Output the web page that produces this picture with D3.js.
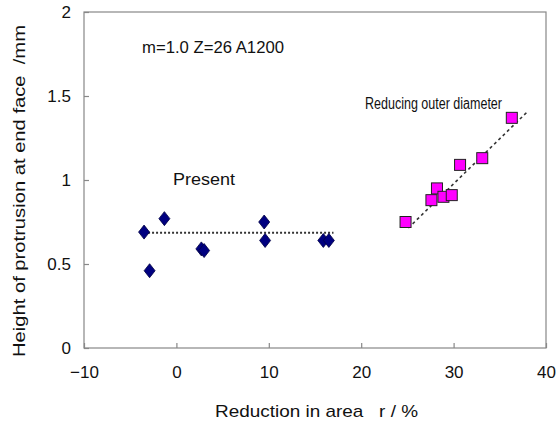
<!DOCTYPE html>
<html>
<head>
<meta charset="utf-8">
<script src="https://cdn.jsdelivr.net/npm/d3@7"></script>
<style>
  body { margin: 0; background: #fff; }
  svg text { font-family: "Liberation Sans", Arial, sans-serif; fill: #111; }
</style>
</head>
<body>
<div id="chart"></div>
<script>
// "Present" points (reduction %, height mm)
var presentX = [-3.5, -2.9, -1.3, 2.7, 3.0, 9.5, 9.6, 15.9, 16.5];
var presentY = [0.69, 0.46, 0.77, 0.59, 0.58, 0.75, 0.64, 0.64, 0.64];
// "Reducing outer diameter" points
var reducingX = [24.8, 27.6, 28.2, 28.9, 29.8, 30.7, 33.1, 36.3];
var reducingY = [0.75, 0.88, 0.95, 0.90, 0.91, 1.09, 1.13, 1.37];
// trend lines (end points)
var presentLineX = [-3.5, 17.0];
var presentLineY = [0.686, 0.686];
var reducingLineX = [25.1, 38.0];
var reducingLineY = [0.714, 1.407];
var xTicks = [-10, 0, 10, 20, 30, 40];
var yTicks = [0, 0.5, 1, 1.5, 2];

var width = 559, height = 427;
var margin = { left: 84, top: 12, right: 13, bottom: 79 };

var svg = d3.select("#chart").append("svg")
    .attr("width", width)
    .attr("height", height);

var x = d3.scaleLinear().domain([-10, 40]).range([margin.left, width - margin.right]);
var y = d3.scaleLinear().domain([0, 2]).range([height - margin.bottom, margin.top]);

// frame
svg.append("rect")
    .attr("x", x(-10)).attr("y", y(2))
    .attr("width", x(40) - x(-10)).attr("height", y(0) - y(2))
    .attr("fill", "none").attr("stroke", "#888").attr("stroke-width", 1.2);

// axes with inward ticks
var xAxis = svg.append("g")
    .attr("transform", "translate(0," + y(0) + ")")
    .call(d3.axisBottom(x).tickValues(xTicks).tickSizeInner(-5).tickSizeOuter(0).tickPadding(22)
        .tickFormat(function (d) { return d < 0 ? "\u2212" + Math.abs(d) : d; }));
var yAxis = svg.append("g")
    .attr("transform", "translate(" + x(-10) + ",0)")
    .call(d3.axisLeft(y).tickValues(yTicks).tickSizeInner(-5).tickSizeOuter(0).tickPadding(13)
        .tickFormat(function (d) { return d; }));
[xAxis, yAxis].forEach(function (a) {
    a.select(".domain").remove();
    a.selectAll("line").attr("stroke", "#888").attr("stroke-width", 1.2);
    a.selectAll("text").style("font-size", "17px").attr("fill", "#111");
});
xAxis.selectAll("text").attr("dy", "0.45em");

// trend lines
var line = d3.line().x(function (d) { return x(d[0]); }).y(function (d) { return y(d[1]); });
svg.append("path")
    .datum(d3.zip(presentLineX, presentLineY))
    .attr("d", line)
    .attr("fill", "none").attr("stroke", "#333").attr("stroke-width", 2)
    .attr("stroke-dasharray", "2,2");
svg.append("path")
    .datum(d3.zip(reducingLineX, reducingLineY))
    .attr("d", line)
    .attr("fill", "none").attr("stroke", "#333").attr("stroke-width", 1.6)
    .attr("stroke-dasharray", "3,3");

// diamonds
svg.selectAll(".present")
    .data(d3.zip(presentX, presentY))
    .enter().append("path")
    .attr("class", "present")
    .attr("transform", function (d) { return "translate(" + x(d[0]) + "," + y(d[1]) + ")"; })
    .attr("d", "M0,-7L5.5,0L0,7L-5.5,0Z")
    .attr("fill", "#000080").attr("stroke", "#000040").attr("stroke-width", 0.8);

// squares
svg.selectAll(".reducing")
    .data(d3.zip(reducingX, reducingY))
    .enter().append("rect")
    .attr("class", "reducing")
    .attr("x", function (d) { return x(d[0]) - 5.5; })
    .attr("y", function (d) { return y(d[1]) - 5.5; })
    .attr("width", 11).attr("height", 11)
    .attr("fill", "#ff00ff").attr("stroke", "#222").attr("stroke-width", 1);

// condensed-looking labels: fit each to the width seen in the original
function label(xp, yp, size, len, txt) {
    return svg.append("text").attr("x", xp).attr("y", yp)
        .style("font-size", size + "px")
        .attr("textLength", len).attr("lengthAdjust", "spacingAndGlyphs")
        .attr("xml:space", "preserve")
        .text(txt);
}
label(142, 53, 16, 142, "m=1.0 Z=26 A1200");
label(173, 185, 16, 62, "Present");
label(365, 109, 16, 137, "Reducing outer diameter");
label(215, 417, 17, 203, "Reduction in area   r / %");

svg.append("text")
    .attr("transform", "translate(25,357) rotate(-90)")
    .style("font-size", "17px")
    .attr("textLength", 332).attr("lengthAdjust", "spacingAndGlyphs")
    .attr("xml:space", "preserve")
    .text("Height of protrusion at end face  /mm");
</script>
</body>
</html>
